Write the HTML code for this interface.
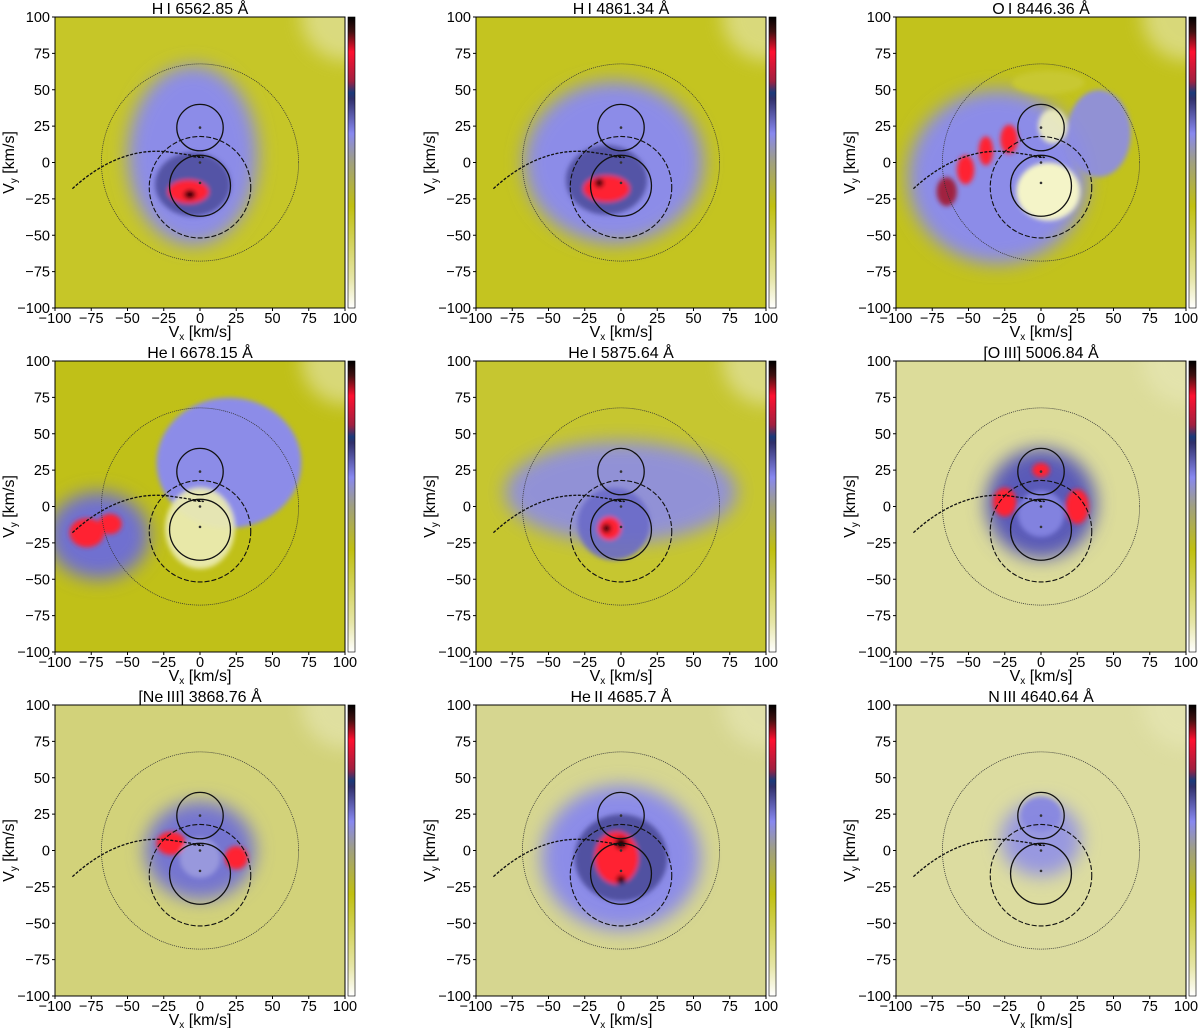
<!DOCTYPE html>
<html><head><meta charset="utf-8"><style>
html,body{margin:0;padding:0;background:#fff;width:1200px;height:1028px;overflow:hidden}
svg{display:block}
text{font-family:"Liberation Sans","DejaVu Sans",sans-serif;fill:#000}
</style></head><body>
<svg id="fig" width="1200" height="1028" viewBox="0 0 1200 1028">
<defs>
<filter id="blur" x="-50%" y="-50%" width="200%" height="200%"><feGaussianBlur stdDeviation="9"/></filter>
<filter id="blur2" x="-50%" y="-50%" width="200%" height="200%"><feGaussianBlur stdDeviation="2.5"/></filter>
<linearGradient id="cbar" x1="0" y1="1" x2="0" y2="0">
<stop offset="0" stop-color="#ffffff"/><stop offset="0.1" stop-color="#e6e6a8"/><stop offset="0.35" stop-color="#c0c010"/>
<stop offset="0.5" stop-color="#a0a080"/><stop offset="0.6" stop-color="#8888f0"/><stop offset="0.72" stop-color="#30306a"/>
<stop offset="0.74" stop-color="#1a3a7a"/><stop offset="0.78" stop-color="#a02040"/><stop offset="0.88" stop-color="#ff1030"/>
<stop offset="0.95" stop-color="#401010"/><stop offset="1" stop-color="#000"/></linearGradient>
</defs>
</svg>
<script>
// panel titles
const titles = ["H\u2009I 6562.85 \u00c5","H\u2009I 4861.34 \u00c5","O\u2009I 8446.36 \u00c5","He\u2009I 6678.15 \u00c5","He\u2009I 5875.64 \u00c5","[O\u2009III] 5006.84 \u00c5","[Ne\u2009III] 3868.76 \u00c5","He\u2009II 4685.7 \u00c5","N\u2009III 4640.64 \u00c5"];
const ticks = [-100,-75,-50,-25,0,25,50,75,100];
const bgColors = ["#c6c628","#c4c420","#c2c21c","#c0c018","#c6c630","#dcdc9a","#d2d27a","#d6d690","#dcdca0"];
// blobs per panel: [vx, vy, rx, ry, color, opacity]
const blobs = [
 [[-5,5,45,62,"#8c8ce8",1],[-5,-15,26,22,"#4a4a9a",0.85],[-8,-20,14,8,"#ff2030",1],[-7,-22,4,3,"#000",1]],
 [[-5,0,62,56,"#8c8ce8",1],[-10,-12,28,24,"#4a4a9a",0.85],[-10,-18,16,9,"#ff2030",1],[-15,-14,3,3,"#000",1]],
 [[-30,-10,62,60,"#8c8ce8",1],[40,20,22,30,"#8c8ce8",0.9],[-65,-20,7,10,"#a02040",1],[-52,-5,6,10,"#ff2030",1],[-38,8,5,10,"#ff2030",1],[-22,16,6,10,"#ff2030",1],[5,-20,22,20,"#f4f4c8",1],[8,25,10,12,"#f0f0c0",0.9],[5,55,25,8,"#c8c830",1]],
 [[-70,-20,35,30,"#7070d0",1],[20,30,50,45,"#8c8ce8",1],[-78,-18,12,10,"#ff2030",1],[-62,-12,8,7,"#ff2030",1],[0,-15,24,28,"#eaeab0",0.95]],
 [[0,10,80,35,"#8c8ce8",0.9],[-5,-12,25,25,"#6a6ac8",0.9],[-8,-15,8,8,"#ff2030",1],[-10,-15,3,3,"#000",1]],
 [[0,2,38,38,"#5a5ab8",1],[-25,3,8,10,"#ff2030",1],[25,0,8,12,"#ff2030",1],[0,25,6,5,"#ff2030",1],[0,-5,16,16,"#8c8ce8",0.8]],
 [[0,0,38,34,"#7474d0",1],[-20,5,10,8,"#ff2030",1],[25,-5,8,8,"#ff2030",1],[0,-5,14,14,"#a0a0e0",0.8]],
 [[0,-5,55,50,"#8c8ce8",1],[0,-5,32,30,"#4a4a9a",0.9],[-3,-5,15,18,"#ff2030",1],[0,5,4,4,"#000",1],[0,-20,3,3,"#000",1]],
 [[0,8,28,26,"#9898e0",1],[0,25,14,12,"#8888e0",0.95]]
];
const svg = document.getElementById('fig');
const NS = "http://www.w3.org/2000/svg";
const colX = [55,476,896], rowY = [17,361,705], W = 290, H = 291;
function mk(tag, attrs, parent){ const e=document.createElementNS(NS,tag); for(const k in attrs) e.setAttribute(k,attrs[k]); parent.appendChild(e); return e; }
for(let p=0;p<9;p++){
  const x0=colX[p%3], y0=rowY[Math.floor(p/3)];
  const sx=v=>x0+(v+100)/200*W, sy=v=>y0+(100-v)/200*H, sr=v=>v/200*W;
  const g=mk('g',{},svg);
  
  
  const cid='clip'+p;
  const cp=mk('clipPath',{id:cid},g); mk('rect',{x:x0,y:y0,width:W,height:H},cp);
  const plot=mk('g',{'clip-path':'url(#'+cid+')'},g);
  
  
  mk('rect',{x:x0,y:y0,width:W,height:H,fill:bgColors[p]},plot);
  mk('circle',{cx:sx(100),cy:sy(100),r:sr(30),fill:"#e8e8b8",filter:"url(#blur)",opacity:0.6},plot);
  let bg=null;
  blobs[p].forEach((b,i)=>{
    if(i===1) bg=mk('g',{filter:'url(#blur2)'},plot);
    const e=mk('ellipse',{cx:sx(b[0]),cy:sy(b[1]),rx:sr(b[2]),ry:sr(b[3]),fill:b[4],opacity:b[5]},i===0?plot:bg);
    if(i===0) e.setAttribute('filter','url(#blur)');
    
    
  });
  // overlays
  mk('circle',{cx:sx(0),cy:sy(0),r:sr(68),fill:'none',stroke:'#333','stroke-width':0.8,'stroke-dasharray':'1 1'},plot);
  mk('circle',{cx:sx(0),cy:sy(-17),r:sr(35),fill:'none',stroke:'#111','stroke-width':1.1,'stroke-dasharray':'5 2'},plot);
  mk('circle',{cx:sx(0),cy:sy(24),r:sr(16),fill:'none',stroke:'#111','stroke-width':1.3},plot);
  mk('circle',{cx:sx(0),cy:sy(-16),r:sr(21),fill:'none',stroke:'#111','stroke-width':1.3},plot);
  mk('path',{d:`M${sx(-88)},${sy(-18)} Q${sx(-55)},${sy(12)} ${sx(-20)},${sy(7)} T${sx(-5)},${sy(4)}`,fill:'none',stroke:'#111','stroke-width':1.3,'stroke-dasharray':'3 1.5'},plot);
  [[0,24],[0,0],[0,-14]].forEach(d=>mk('circle',{cx:sx(d[0]),cy:sy(d[1]),r:1.3,fill:'#333'},plot));
  mk('rect',{x:x0,y:y0,width:W,height:H,fill:'none',stroke:'#000','stroke-width':1},g);
  // ticks
  ticks.forEach(t=>{
    mk('line',{x1:sx(t),y1:y0+H,x2:sx(t),y2:y0+H+3,stroke:'#000'},g);
    const tx=mk('text',{x:sx(t),y:y0+H+15,'font-size':14.5,'text-anchor':'middle'},g); tx.textContent=(t<0?'\u2212'+(-t):t);
    mk('line',{x1:x0-3,y1:sy(t),x2:x0,y2:sy(t),stroke:'#000'},g);
    const ty=mk('text',{x:x0-5,y:sy(t)+5,'font-size':14.5,'text-anchor':'end'},g); ty.textContent=(t<0?'\u2212'+(-t):t);
  });
  const ti=mk('text',{x:x0+W/2,y:y0-3,'font-size':16,'text-anchor':'middle'},g); ti.textContent=titles[p];
  
  
  const xl=mk('text',{x:x0+W/2,y:y0+H+29,'font-size':16,'text-anchor':'middle'},g);
  xl.innerHTML='V<tspan font-size="10" dy="3">x</tspan><tspan dy="-3"> [km/s]</tspan>';
  
  
  const yl=mk('text',{transform:`translate(${x0-41},${y0+H/2}) rotate(-90)`,'font-size':16,'text-anchor':'middle'},g);
  yl.innerHTML='V<tspan font-size="10" dy="3">y</tspan><tspan dy="-3"> [km/s]</tspan>';
  
  
  const cb=mk('rect',{x:x0+W+3,y:y0,width:7,height:H,fill:'url(#cbar)',stroke:'#000','stroke-width':0.6},g);
  
  
}
</script>
</body></html>
